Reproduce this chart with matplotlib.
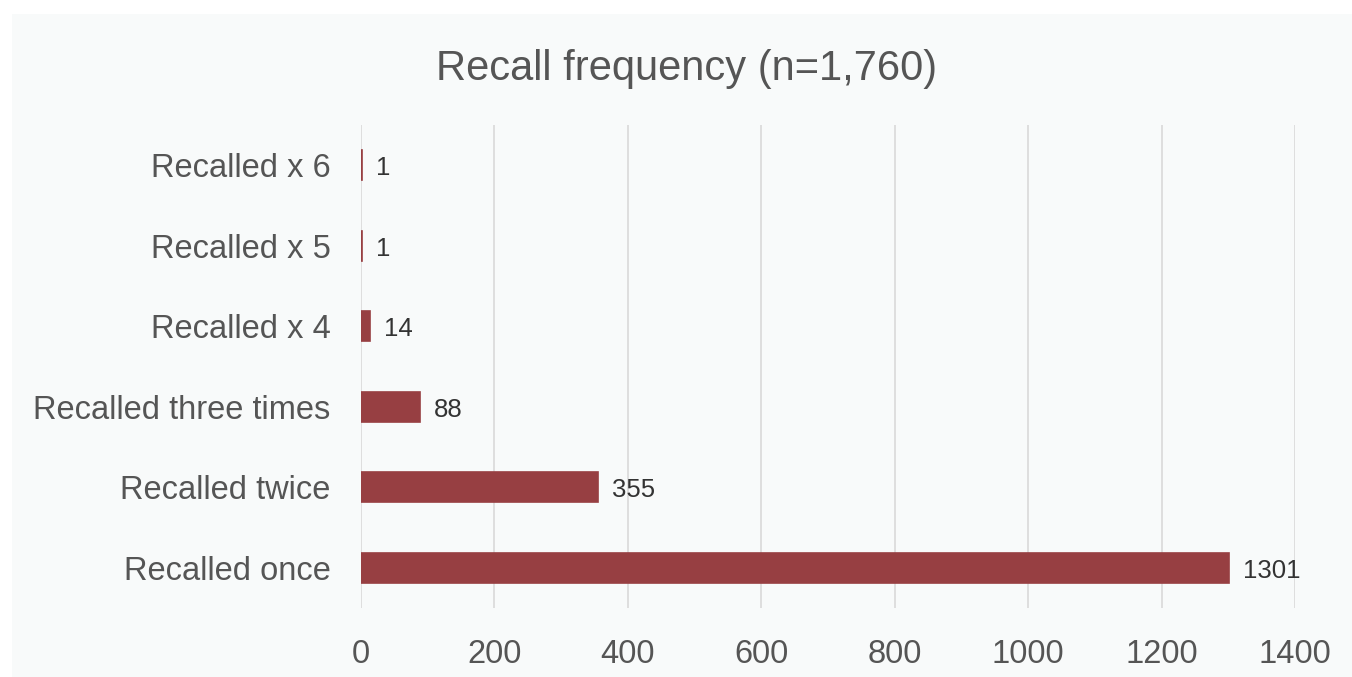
import matplotlib.pyplot as plt
from matplotlib.patches import Rectangle

# data
categories = ["Recalled once", "Recalled twice", "Recalled three times",
              "Recalled x 4", "Recalled x 5", "Recalled x 6"]
counts = [1301, 355, 88, 14, 1, 1]
xticks = [0, 200, 400, 600, 800, 1000, 1200, 1400]

plt.rcParams['font.family'] = ['Liberation Sans', 'DejaVu Sans']
textColor = "#555555"
barColor = "#973f42"

fig = plt.figure(figsize=(13.52, 6.77), dpi=100, facecolor="white")

# light panel behind the chart
fig.patches.append(Rectangle((12/1352, 0), 1, 1 - 14/677, transform=fig.transFigure,
                             facecolor="#f8fafa", edgecolor="none", zorder=-5))

ax = fig.add_axes([361/1352, 1 - 608/677, (1295 - 361)/1352, (608 - 125)/677])
ax.set_facecolor("none")
ax.set_zorder(2)

ypos = range(len(categories))
ax.barh(ypos, counts, height=0.37, color=barColor, edgecolor=barColor,
        linewidth=1.2, zorder=3)

for y, v in zip(ypos, counts):
    ax.annotate(str(v), (v, y), xytext=(10, -2), textcoords="offset points",
                va="center", ha="left", fontsize=18.5, color="#333333")

ax.set_xlim(0, 1400)
ax.set_ylim(-0.5, 5.5)
ax.set_xticks(xticks)
ax.set_yticks(list(ypos))
ax.set_yticklabels(categories)
ax.tick_params(axis="y", length=0, pad=22, labelsize=23.5, labelcolor=textColor)
ax.tick_params(axis="x", length=0, pad=22, labelsize=23.5, labelcolor=textColor)

ax.grid(axis="x", color="#d9d9d9", linewidth=1.2, zorder=0)
for s in ax.spines.values():
    s.set_visible(False)

fig.text(687/1352, 1 - 69/677, "Recall frequency (n=1,760)", ha="center", va="center",
         fontsize=30, color=textColor)

fig.savefig("out.png", dpi=100, facecolor=fig.get_facecolor())
